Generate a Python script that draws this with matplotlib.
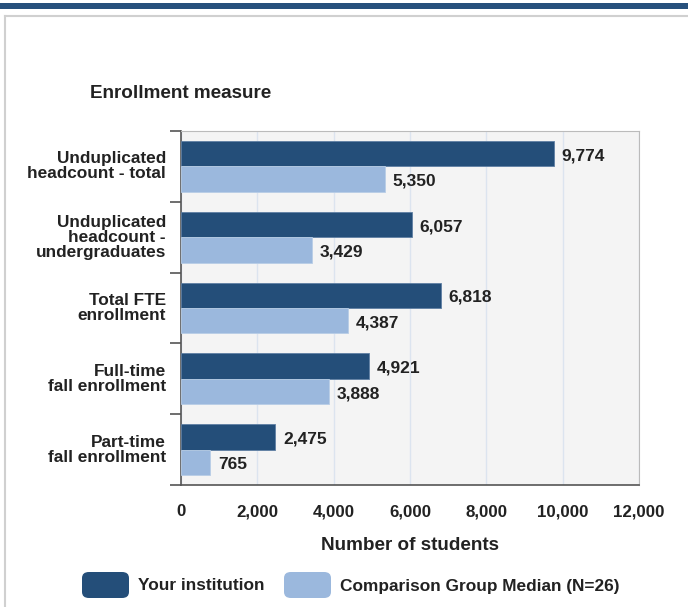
import matplotlib.pyplot as plt
from matplotlib.patches import FancyBboxPatch, Rectangle
from matplotlib.lines import Line2D

plt.rcParams['font.family'] = ['Liberation Sans', 'DejaVu Sans']

categories = ['Unduplicated\nheadcount - total',
              'Unduplicated\nheadcount -\nundergraduates',
              'Total FTE\nenrollment',
              'Full-time\nfall enrollment',
              'Part-time\nfall enrollment']
institution = [9774, 6057, 6818, 4921, 2475]
comparison = [5350, 3429, 4387, 3888, 765]
series_names = ['Your institution', 'Comparison Group Median (N=26)']
xticks = [0, 2000, 4000, 6000, 8000, 10000, 12000]

dark = '#244e79'
light = '#9bb8dd'
txt = '#222222'

W, H = 688, 607
fig = plt.figure(figsize=(W / 100, H / 100), dpi=100)

# page decorations: top band and card border
fig.add_artist(Rectangle((0, 1 - 9 / H), 1, 6 / H, transform=fig.transFigure,
                         color='#27507c', lw=0))
fig.add_artist(Line2D([5 / W, 1], [1 - 16 / H] * 2, transform=fig.transFigure,
                      color='#d0d0d0', lw=1.5))
fig.add_artist(Line2D([5 / W] * 2, [0, 1 - 16 / H], transform=fig.transFigure,
                      color='#d0d0d0', lw=1.5))

left, right, top, bottom = 181, 639, 131, 485
ax = fig.add_axes([left / W, 1 - bottom / H, (right - left) / W, (bottom - top) / H])
ax.set_facecolor('#f4f4f4')

n = len(categories)
h = 0.36
for i in range(n):
    y = i
    ax.barh(y - h / 2, institution[i], height=h, color=dark, edgecolor='#5f7fa3', lw=0.6, zorder=3)
    ax.barh(y + h / 2, comparison[i], height=h, color=light, edgecolor='#b8cde6', lw=0.6, zorder=3)
    ax.text(institution[i] + 200, y - h / 2 + 0.03, f'{institution[i]:,}', va='center',
            ha='left', fontsize=12.5, fontweight='bold', color=txt)
    ax.text(comparison[i] + 200, y + h / 2 + 0.03, f'{comparison[i]:,}', va='center',
            ha='left', fontsize=12.5, fontweight='bold', color=txt)

ax.set_ylim(n - 0.5, -0.5)
ax.set_xlim(0, 12000)
ax.set_xticks(xticks)
ax.set_xticklabels([f'{v:,}' for v in xticks], fontsize=12.2, fontweight='bold', color=txt)
ax.tick_params(axis='x', length=0, pad=14)
ax.grid(axis='x', color='#dce4ef', lw=1, zorder=0)

ax.set_yticks([i - 0.5 for i in range(n + 1)], minor=False)
ax.set_yticklabels([])
ax.tick_params(axis='y', length=8, width=1.2, color='#555555')
for i, c in enumerate(categories):
    ax.text(-0.033, i, c, transform=ax.get_yaxis_transform(), ha='right', va='center',
            fontsize=12.4, fontweight='bold', color=txt, linespacing=1.0)

for s in ['top', 'right']:
    ax.spines[s].set_color('#bbbbbb')
for s in ['left', 'bottom']:
    ax.spines[s].set_color('#555555')
    ax.spines[s].set_linewidth(1.2)

ax.set_xlabel('Number of students', fontsize=13.6, fontweight='bold', color=txt, labelpad=13)
fig.text(90 / W, 1 - 94 / H, 'Enrollment measure', fontsize=13.6, fontweight='bold',
         color=txt, va='center', ha='left')

# legend
for x0, x1, col, name in [(82, 138, dark, series_names[0]), (284, 340, light, series_names[1])]:
    fig.add_artist(FancyBboxPatch((x0 / W, 1 - 598 / H), 47 / W, 26 / H,
                                  boxstyle='round,pad=0,rounding_size=0.01',
                                  transform=fig.transFigure, color=col, lw=0))
    fig.text(x1 / W, 1 - 586 / H, name, fontsize=12.4, fontweight='bold', color=txt,
             va='center', ha='left')

fig.savefig('out.png', dpi=100)
